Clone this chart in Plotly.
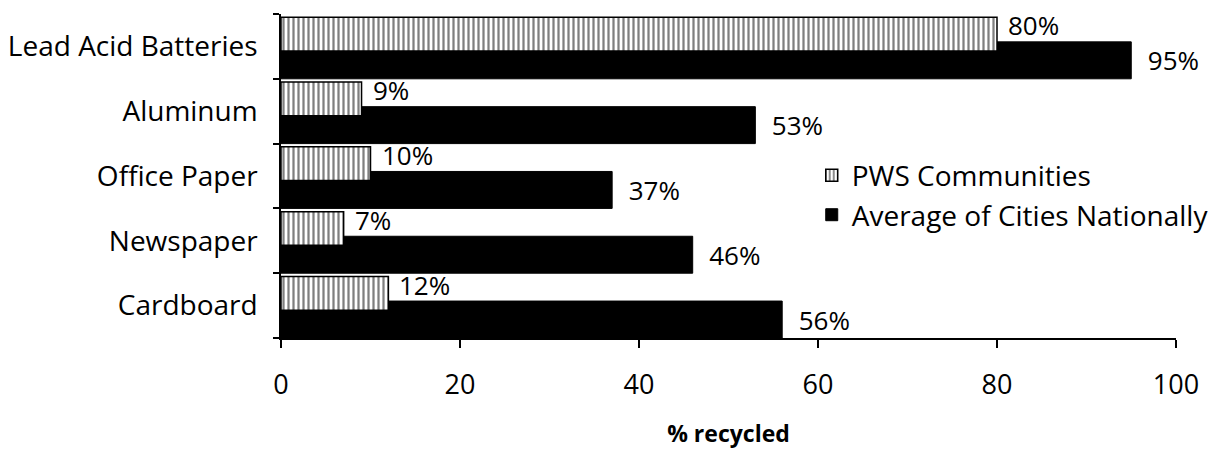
import plotly.graph_objects as go

categories = ["Cardboard", "Newspaper", "Office Paper", "Aluminum", "Lead Acid Batteries"]
pws = [12, 7, 10, 9, 80]
national = [56, 46, 37, 53, 95]
x_ticks = [0, 20, 40, 60, 80, 100]

FONT = "Open Sans"
NB = "\u00a0"

fig = go.Figure()
fig.add_trace(go.Bar(
    y=categories, x=national, orientation="h", name="Average of Cities Nationally",
    legendgroup="b", legendrank=2,
    marker=dict(color="black", line=dict(color="black", width=1)),
    offset=-0.5, width=0.57,
    text=[f"{NB}{NB}{v}%" for v in national], textposition="outside",
    textfont=dict(size=26, color="black", family=FONT), cliponaxis=False,
))
fig.add_trace(go.Bar(
    y=categories, x=pws, orientation="h", name="PWS Communities",
    legendgroup="a", legendrank=1,
    marker=dict(color="white", line=dict(color="black", width=1.5),
                pattern=dict(shape="|", fgcolor="black", bgcolor="white", size=5, solidity=0.45)),
    offset=-0.07, width=0.52,
))
for cat, v in zip(categories, pws):
    fig.add_annotation(x=v, y=cat, text=f"{v}%", showarrow=False,
                       xanchor="left", yanchor="middle", xshift=9, yshift=21,
                       font=dict(size=26, color="black", family=FONT))

fig.update_layout(
    width=1222, height=449,
    margin=dict(l=281, r=46, t=14, b=111, autoexpand=False),
    paper_bgcolor="white", plot_bgcolor="white",
    barmode="overlay",
    font=dict(family=FONT, color="black", size=26),
    showlegend=True,
    legend=dict(x=0.593, y=0.441, xanchor="left", yanchor="middle",
                traceorder="normal", font=dict(size=28, family=FONT),
                bgcolor="rgba(0,0,0,0)", itemwidth=30, tracegroupgap=5),
)
fig.update_xaxes(
    range=[0, 100], tickvals=x_ticks, ticktext=[str(v) for v in x_ticks],
    showgrid=False, zeroline=False, showline=True, linecolor="black", linewidth=1.5,
    ticks="outside", ticklen=8, tickcolor="black", tickwidth=1.5, automargin=False,
    tickfont=dict(size=27, family=FONT), ticklabelstandoff=14,
    title=dict(text="<b>% recycled</b>", font=dict(size=23, family=FONT), standoff=31),
)
fig.update_yaxes(
    type="category", categoryorder="array", categoryarray=categories,
    range=[-0.5, 4.5], showgrid=False, zeroline=False, automargin=False,
    showline=True, linecolor="black", linewidth=1.5,
    ticks="outside", tickson="boundaries", ticklen=6, tickcolor="black", tickwidth=1.5,
    tickfont=dict(size=28, family=FONT), ticklabelstandoff=16,
)

fig.write_html("out.html")
